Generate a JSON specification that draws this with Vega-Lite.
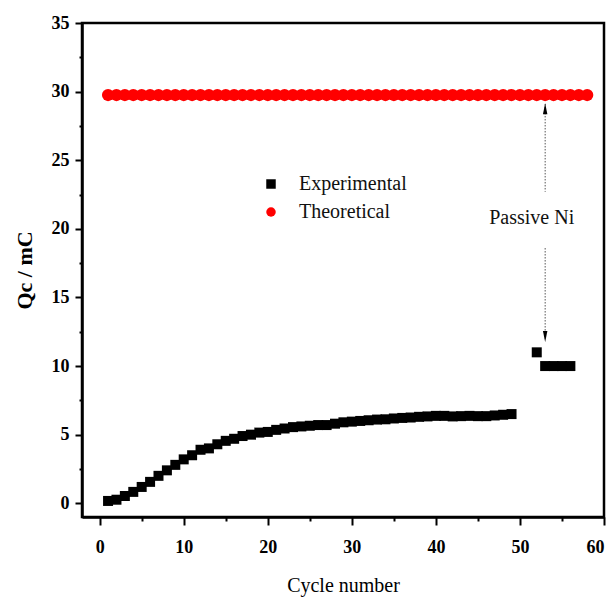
{
  "$schema": "https://vega.github.io/schema/vega-lite/v6.json",
  "width": 522,
  "height": 494,
  "autosize": {"type": "none"},
  "padding": {"left": 82, "top": 23, "right": 10, "bottom": 80},
  "background": "white",
  "config": {
    "view": {"stroke": "black", "strokeWidth": 2.5},
    "font": "Times New Roman, Liberation Serif, serif",
    "axis": {
      "domainColor": "black",
      "domainWidth": 2.5,
      "tickColor": "black",
      "tickWidth": 2,
      "grid": false,
      "labelFont": "Times New Roman, Liberation Serif, serif",
      "labelFontWeight": "bold",
      "labelFontSize": 18,
      "labelColor": "black",
      "titleFont": "Times New Roman, Liberation Serif, serif",
      "titleColor": "black",
      "labelOverlap": false
    },
    "legend": {
      "orient": "none",
      "legendX": 179,
      "legendY": 151,
      "padding": 0,
      "labelFont": "Times New Roman, Liberation Serif, serif",
      "labelFontSize": 20,
      "labelColor": "#111",
      "symbolSize": 90,
      "symbolStrokeWidth": 0,
      "rowPadding": 8,
      "labelOffset": 18
    }
  },
  "datasets": {
    "pts": [
      {"cycle": 1, "q": 0.17, "series": "Experimental"},
      {"cycle": 2, "q": 0.26, "series": "Experimental"},
      {"cycle": 3, "q": 0.53, "series": "Experimental"},
      {"cycle": 4, "q": 0.83, "series": "Experimental"},
      {"cycle": 5, "q": 1.19, "series": "Experimental"},
      {"cycle": 6, "q": 1.56, "series": "Experimental"},
      {"cycle": 7, "q": 2.0, "series": "Experimental"},
      {"cycle": 8, "q": 2.4, "series": "Experimental"},
      {"cycle": 9, "q": 2.8, "series": "Experimental"},
      {"cycle": 10, "q": 3.2, "series": "Experimental"},
      {"cycle": 11, "q": 3.5, "series": "Experimental"},
      {"cycle": 12, "q": 3.9, "series": "Experimental"},
      {"cycle": 13, "q": 4.0, "series": "Experimental"},
      {"cycle": 14, "q": 4.3, "series": "Experimental"},
      {"cycle": 15, "q": 4.55, "series": "Experimental"},
      {"cycle": 16, "q": 4.7, "series": "Experimental"},
      {"cycle": 17, "q": 4.9, "series": "Experimental"},
      {"cycle": 18, "q": 5.0, "series": "Experimental"},
      {"cycle": 19, "q": 5.15, "series": "Experimental"},
      {"cycle": 20, "q": 5.2, "series": "Experimental"},
      {"cycle": 21, "q": 5.35, "series": "Experimental"},
      {"cycle": 22, "q": 5.45, "series": "Experimental"},
      {"cycle": 23, "q": 5.55, "series": "Experimental"},
      {"cycle": 24, "q": 5.6, "series": "Experimental"},
      {"cycle": 25, "q": 5.65, "series": "Experimental"},
      {"cycle": 26, "q": 5.7, "series": "Experimental"},
      {"cycle": 27, "q": 5.7, "series": "Experimental"},
      {"cycle": 28, "q": 5.8, "series": "Experimental"},
      {"cycle": 29, "q": 5.9, "series": "Experimental"},
      {"cycle": 30, "q": 5.95, "series": "Experimental"},
      {"cycle": 31, "q": 6.0, "series": "Experimental"},
      {"cycle": 32, "q": 6.05, "series": "Experimental"},
      {"cycle": 33, "q": 6.1, "series": "Experimental"},
      {"cycle": 34, "q": 6.12, "series": "Experimental"},
      {"cycle": 35, "q": 6.18, "series": "Experimental"},
      {"cycle": 36, "q": 6.22, "series": "Experimental"},
      {"cycle": 37, "q": 6.25, "series": "Experimental"},
      {"cycle": 38, "q": 6.3, "series": "Experimental"},
      {"cycle": 39, "q": 6.33, "series": "Experimental"},
      {"cycle": 40, "q": 6.37, "series": "Experimental"},
      {"cycle": 41, "q": 6.37, "series": "Experimental"},
      {"cycle": 42, "q": 6.33, "series": "Experimental"},
      {"cycle": 43, "q": 6.35, "series": "Experimental"},
      {"cycle": 44, "q": 6.37, "series": "Experimental"},
      {"cycle": 45, "q": 6.35, "series": "Experimental"},
      {"cycle": 46, "q": 6.35, "series": "Experimental"},
      {"cycle": 47, "q": 6.4, "series": "Experimental"},
      {"cycle": 48, "q": 6.45, "series": "Experimental"},
      {"cycle": 49, "q": 6.5, "series": "Experimental"},
      {"cycle": 52, "q": 11.0, "series": "Experimental"},
      {"cycle": 53, "q": 10.0, "series": "Experimental"},
      {"cycle": 54, "q": 10.0, "series": "Experimental"},
      {"cycle": 55, "q": 10.0, "series": "Experimental"},
      {"cycle": 56, "q": 10.0, "series": "Experimental"},
      {"cycle": 1, "q": 29.75, "series": "Theoretical"},
      {"cycle": 2, "q": 29.75, "series": "Theoretical"},
      {"cycle": 3, "q": 29.75, "series": "Theoretical"},
      {"cycle": 4, "q": 29.75, "series": "Theoretical"},
      {"cycle": 5, "q": 29.75, "series": "Theoretical"},
      {"cycle": 6, "q": 29.75, "series": "Theoretical"},
      {"cycle": 7, "q": 29.75, "series": "Theoretical"},
      {"cycle": 8, "q": 29.75, "series": "Theoretical"},
      {"cycle": 9, "q": 29.75, "series": "Theoretical"},
      {"cycle": 10, "q": 29.75, "series": "Theoretical"},
      {"cycle": 11, "q": 29.75, "series": "Theoretical"},
      {"cycle": 12, "q": 29.75, "series": "Theoretical"},
      {"cycle": 13, "q": 29.75, "series": "Theoretical"},
      {"cycle": 14, "q": 29.75, "series": "Theoretical"},
      {"cycle": 15, "q": 29.75, "series": "Theoretical"},
      {"cycle": 16, "q": 29.75, "series": "Theoretical"},
      {"cycle": 17, "q": 29.75, "series": "Theoretical"},
      {"cycle": 18, "q": 29.75, "series": "Theoretical"},
      {"cycle": 19, "q": 29.75, "series": "Theoretical"},
      {"cycle": 20, "q": 29.75, "series": "Theoretical"},
      {"cycle": 21, "q": 29.75, "series": "Theoretical"},
      {"cycle": 22, "q": 29.75, "series": "Theoretical"},
      {"cycle": 23, "q": 29.75, "series": "Theoretical"},
      {"cycle": 24, "q": 29.75, "series": "Theoretical"},
      {"cycle": 25, "q": 29.75, "series": "Theoretical"},
      {"cycle": 26, "q": 29.75, "series": "Theoretical"},
      {"cycle": 27, "q": 29.75, "series": "Theoretical"},
      {"cycle": 28, "q": 29.75, "series": "Theoretical"},
      {"cycle": 29, "q": 29.75, "series": "Theoretical"},
      {"cycle": 30, "q": 29.75, "series": "Theoretical"},
      {"cycle": 31, "q": 29.75, "series": "Theoretical"},
      {"cycle": 32, "q": 29.75, "series": "Theoretical"},
      {"cycle": 33, "q": 29.75, "series": "Theoretical"},
      {"cycle": 34, "q": 29.75, "series": "Theoretical"},
      {"cycle": 35, "q": 29.75, "series": "Theoretical"},
      {"cycle": 36, "q": 29.75, "series": "Theoretical"},
      {"cycle": 37, "q": 29.75, "series": "Theoretical"},
      {"cycle": 38, "q": 29.75, "series": "Theoretical"},
      {"cycle": 39, "q": 29.75, "series": "Theoretical"},
      {"cycle": 40, "q": 29.75, "series": "Theoretical"},
      {"cycle": 41, "q": 29.75, "series": "Theoretical"},
      {"cycle": 42, "q": 29.75, "series": "Theoretical"},
      {"cycle": 43, "q": 29.75, "series": "Theoretical"},
      {"cycle": 44, "q": 29.75, "series": "Theoretical"},
      {"cycle": 45, "q": 29.75, "series": "Theoretical"},
      {"cycle": 46, "q": 29.75, "series": "Theoretical"},
      {"cycle": 47, "q": 29.75, "series": "Theoretical"},
      {"cycle": 48, "q": 29.75, "series": "Theoretical"},
      {"cycle": 49, "q": 29.75, "series": "Theoretical"},
      {"cycle": 50, "q": 29.75, "series": "Theoretical"},
      {"cycle": 51, "q": 29.75, "series": "Theoretical"},
      {"cycle": 52, "q": 29.75, "series": "Theoretical"},
      {"cycle": 53, "q": 29.75, "series": "Theoretical"},
      {"cycle": 54, "q": 29.75, "series": "Theoretical"},
      {"cycle": 55, "q": 29.75, "series": "Theoretical"},
      {"cycle": 56, "q": 29.75, "series": "Theoretical"},
      {"cycle": 57, "q": 29.75, "series": "Theoretical"},
      {"cycle": 58, "q": 29.75, "series": "Theoretical"}
    ]
  },
  "encoding": {
    "x": {
      "field": "cycle",
      "type": "quantitative",
      "scale": {"domain": [-2.1, 60], "nice": false, "zero": false},
      "axis": {
        "title": "Cycle number",
        "titleFontSize": 20,
        "titleFontWeight": "normal",
        "titleY": 74,
        "titleBaseline": "alphabetic",
        "values": [0, 5, 10, 15, 20, 25, 30, 35, 40, 45, 50, 55, 60],
        "labelExpr": "datum.value % 10 === 0 ? datum.label : ''",
        "tickSize": {"condition": {"test": "datum.value % 10 === 0", "value": 8}, "value": 4},
        "labelPadding": 13
      }
    },
    "y": {
      "field": "q",
      "type": "quantitative",
      "scale": {"domain": [-1, 35], "nice": false, "zero": false},
      "axis": {
        "title": "Qc / mC",
        "titleFontSize": 22,
        "titleFontWeight": "bold",
        "titleAngle": -90,
        "titleX": -58,
        "titleY": 247,
        "titleAlign": "center",
        "titleBaseline": "middle",
        "values": [0, 2.5, 5, 7.5, 10, 12.5, 15, 17.5, 20, 22.5, 25, 27.5, 30, 32.5, 35],
        "labelExpr": "datum.value % 5 === 0 ? datum.label : ''",
        "tickSize": {"condition": {"test": "datum.value % 5 === 0", "value": 7}, "value": 3},
        "labelPadding": 6
      }
    }
  },
  "layer": [
    {
      "data": {"name": "pts"},
      "transform": [{"filter": "datum.series === 'Theoretical'"}],
      "mark": {"type": "point", "filled": true, "opacity": 1, "size": 150},
      "encoding": {
        "color": {"field": "series", "type": "nominal", "scale": {"domain": ["Experimental", "Theoretical"], "range": ["black", "#ff0000"]}, "legend": {"title": null}},
        "shape": {"field": "series", "type": "nominal", "scale": {"domain": ["Experimental", "Theoretical"], "range": ["square", "circle"]}, "legend": {"title": null}}
      }
    },
    {
      "data": {"name": "pts"},
      "transform": [{"filter": "datum.series === 'Experimental'"}],
      "mark": {"type": "point", "filled": true, "opacity": 1, "size": 100},
      "encoding": {
        "color": {"field": "series", "type": "nominal", "scale": {"domain": ["Experimental", "Theoretical"], "range": ["black", "#ff0000"]}, "legend": {"title": null}},
        "shape": {"field": "series", "type": "nominal", "scale": {"domain": ["Experimental", "Theoretical"], "range": ["square", "circle"]}, "legend": {"title": null}}
      }
    },
    {
      "data": {"values": [{"cycle": 53, "q": 29.1, "q2": 22.7}, {"cycle": 53, "q": 18.6, "q2": 12.0}]},
      "mark": {"type": "rule", "color": "#555", "strokeWidth": 1, "strokeDash": [1.5, 1.5]},
      "encoding": {"y2": {"field": "q2"}}
    },
    {
      "data": {"values": [{"cycle": 53, "q": 28.75}]},
      "mark": {"type": "point", "filled": true, "opacity": 1, "color": "black", "size": 121, "shape": "M0,-1L0.4,1L-0.4,1Z"}
    },
    {
      "data": {"values": [{"cycle": 53, "q": 12.15}]},
      "mark": {"type": "point", "filled": true, "opacity": 1, "color": "black", "size": 121, "shape": "M0,1L0.4,-1L-0.4,-1Z"}
    },
    {
      "data": {"values": [{"cycle": 51.4, "q": 20.8, "label": "Passive Ni"}]},
      "mark": {"type": "text", "font": "Times New Roman, Liberation Serif, serif", "fontSize": 20, "color": "#111", "baseline": "middle", "align": "center"},
      "encoding": {"text": {"field": "label"}}
    }
  ]
}
